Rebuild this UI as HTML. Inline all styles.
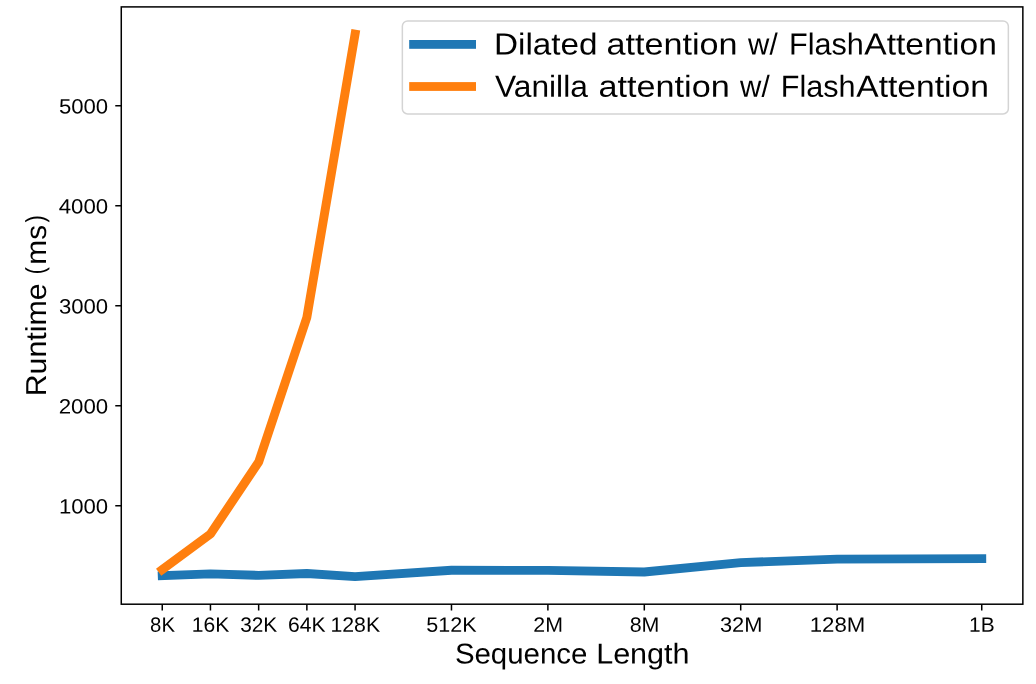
<!DOCTYPE html>
<html><head><meta charset="utf-8"><title>Runtime vs Sequence Length</title>
<style>
html,body{margin:0;padding:0;background:#fff;}
body{width:1036px;height:684px;overflow:hidden;}
svg{display:block;}
text{text-rendering:geometricPrecision;font-family:"Liberation Sans",sans-serif;fill:#000;stroke:#000;stroke-width:0.0;}
.t{opacity:0.999;}
</style></head><body>
<svg width="1036" height="684" viewBox="0 0 1036 684">
<rect x="0" y="0" width="1036" height="684" fill="#ffffff"/>
<!-- data series -->
<polyline points="162.25,575.67 210.45,573.87 258.66,575.37 306.87,573.47 355.07,576.67 451.48,570.27 547.89,570.37 644.30,571.97 740.71,562.67 837.12,559.17 981.74,558.67" fill="none" stroke="#1f77b4" stroke-width="8.9" stroke-linejoin="round" stroke-linecap="square"/>
<polyline points="162.25,569.57 210.45,533.97 258.66,462.07 306.87,317.37 355.07,34.07" fill="none" stroke="#ff7f0e" stroke-width="8.9" stroke-linejoin="round" stroke-linecap="square"/>
<!-- ticks and spines -->
<path d="M162.25 604.20v6.2M210.45 604.20v6.2M258.66 604.20v6.2M306.87 604.20v6.2M355.07 604.20v6.2M451.48 604.20v6.2M547.89 604.20v6.2M644.30 604.20v6.2M740.71 604.20v6.2M837.12 604.20v6.2M981.74 604.20v6.2M121.27 505.87h-6.0M121.27 405.87h-6.0M121.27 305.87h-6.0M121.27 205.87h-6.0M121.27 105.87h-6.0" stroke="#000" stroke-width="1.5" fill="none"/>
<rect x="121.27" y="6.9" width="901.58" height="597.30" fill="none" stroke="#000" stroke-width="1.5"/>
<!-- legend frame and handles -->
<rect x="402.35" y="20.9" width="606.0" height="93.05" rx="5.3" ry="5.3" fill="#ffffff" fill-opacity="0.8" stroke="#d4d4d4" stroke-width="1.5"/>
<rect x="409.2" y="40.0" width="66.8" height="8.8" fill="#1f77b4"/>
<rect x="409.2" y="82.1" width="66.8" height="8.8" fill="#ff7f0e"/>
<g class="t">
<!-- x tick labels -->
<text transform="translate(150.08,631.65) rotate(0.03) scale(0.9828,1)" font-size="20.7">8K</text>
<text transform="translate(191.82,631.65) rotate(0.03) scale(1.0176,1)" font-size="20.7">16K</text>
<text transform="translate(240.17,631.65) rotate(0.03) scale(1.0082,1)" font-size="20.7">32K</text>
<text transform="translate(288.04,631.65) rotate(0.03) scale(1.0197,1)" font-size="20.7">64K</text>
<text transform="translate(330.40,631.65) rotate(0.03) scale(1.0284,1)" font-size="20.7">128K</text>
<text transform="translate(426.34,631.65) rotate(0.03) scale(1.0423,1)" font-size="20.7">512K</text>
<text transform="translate(533.33,631.65) rotate(0.03) scale(1.0316,1)" font-size="20.7">2M</text>
<text transform="translate(629.64,631.65) rotate(0.03) scale(1.0352,1)" font-size="20.7">8M</text>
<text transform="translate(719.93,631.65) rotate(0.03) scale(1.0564,1)" font-size="20.7">32M</text>
<text transform="translate(809.73,631.65) rotate(0.03) scale(1.0733,1)" font-size="20.7">128M</text>
<text transform="translate(969.03,631.65) rotate(0.03) scale(1.0103,1)" font-size="20.7">1B</text>
<!-- y tick labels -->
<text transform="translate(58.94,513.47) rotate(0.03) scale(1.0692,1)" font-size="20.7">1000</text>
<text transform="translate(58.69,413.47) rotate(0.03) scale(1.0748,1)" font-size="20.7">2000</text>
<text transform="translate(58.91,313.47) rotate(0.03) scale(1.0698,1)" font-size="20.7">3000</text>
<text transform="translate(58.74,213.47) rotate(0.03) scale(1.0735,1)" font-size="20.7">4000</text>
<text transform="translate(58.91,113.47) rotate(0.03) scale(1.0698,1)" font-size="20.7">5000</text>
<!-- axis labels -->
<text transform="translate(454.88,663.40) rotate(0.03) scale(1.0216,1)" font-size="28.8">Sequence</text>
<text transform="translate(596.16,663.40) rotate(0.03) scale(1.0601,1)" font-size="28.8">Length</text>
<text transform="translate(46.00,396.32) rotate(-89.97) scale(1.0523,1.0)" font-size="28.8">Runtime</text>
<text transform="translate(43.70,274.27) rotate(-89.97) scale(0.7338,0.906)" font-size="28.8">(</text>
<text transform="translate(46.00,264.74) rotate(-89.97) scale(1.0374,1.0)" font-size="28.8">ms</text>
<text transform="translate(43.70,222.62) rotate(-89.97) scale(0.7612,0.906)" font-size="28.8">)</text>
<!-- legend labels -->
<text transform="translate(494.04,54.40) rotate(0.03) scale(1.0939,1)" font-size="30.4">Dilated</text>
<text transform="translate(606.46,54.40) rotate(0.03) scale(1.1242,1)" font-size="30.4">attention</text>
<text transform="translate(748.10,54.40) rotate(0.03) scale(0.9720,1)" font-size="30.4">w/</text>
<text transform="translate(789.05,54.40) rotate(0.03) scale(1.0054,1)" font-size="30.4">Flash</text>
<text transform="translate(864.33,54.40) rotate(0.03) scale(1.1044,1)" font-size="30.4">Attention</text>
<text transform="translate(494.94,96.80) rotate(0.03) scale(1.0443,1)" font-size="30.4">Vanilla</text>
<text transform="translate(598.46,96.80) rotate(0.03) scale(1.1259,1)" font-size="30.4">attention</text>
<text transform="translate(740.10,96.80) rotate(0.03) scale(0.9720,1)" font-size="30.4">w/</text>
<text transform="translate(780.85,96.80) rotate(0.03) scale(1.0054,1)" font-size="30.4">Flash</text>
<text transform="translate(856.33,96.80) rotate(0.03) scale(1.1044,1)" font-size="30.4">Attention</text>
</g>
</svg></body></html>
